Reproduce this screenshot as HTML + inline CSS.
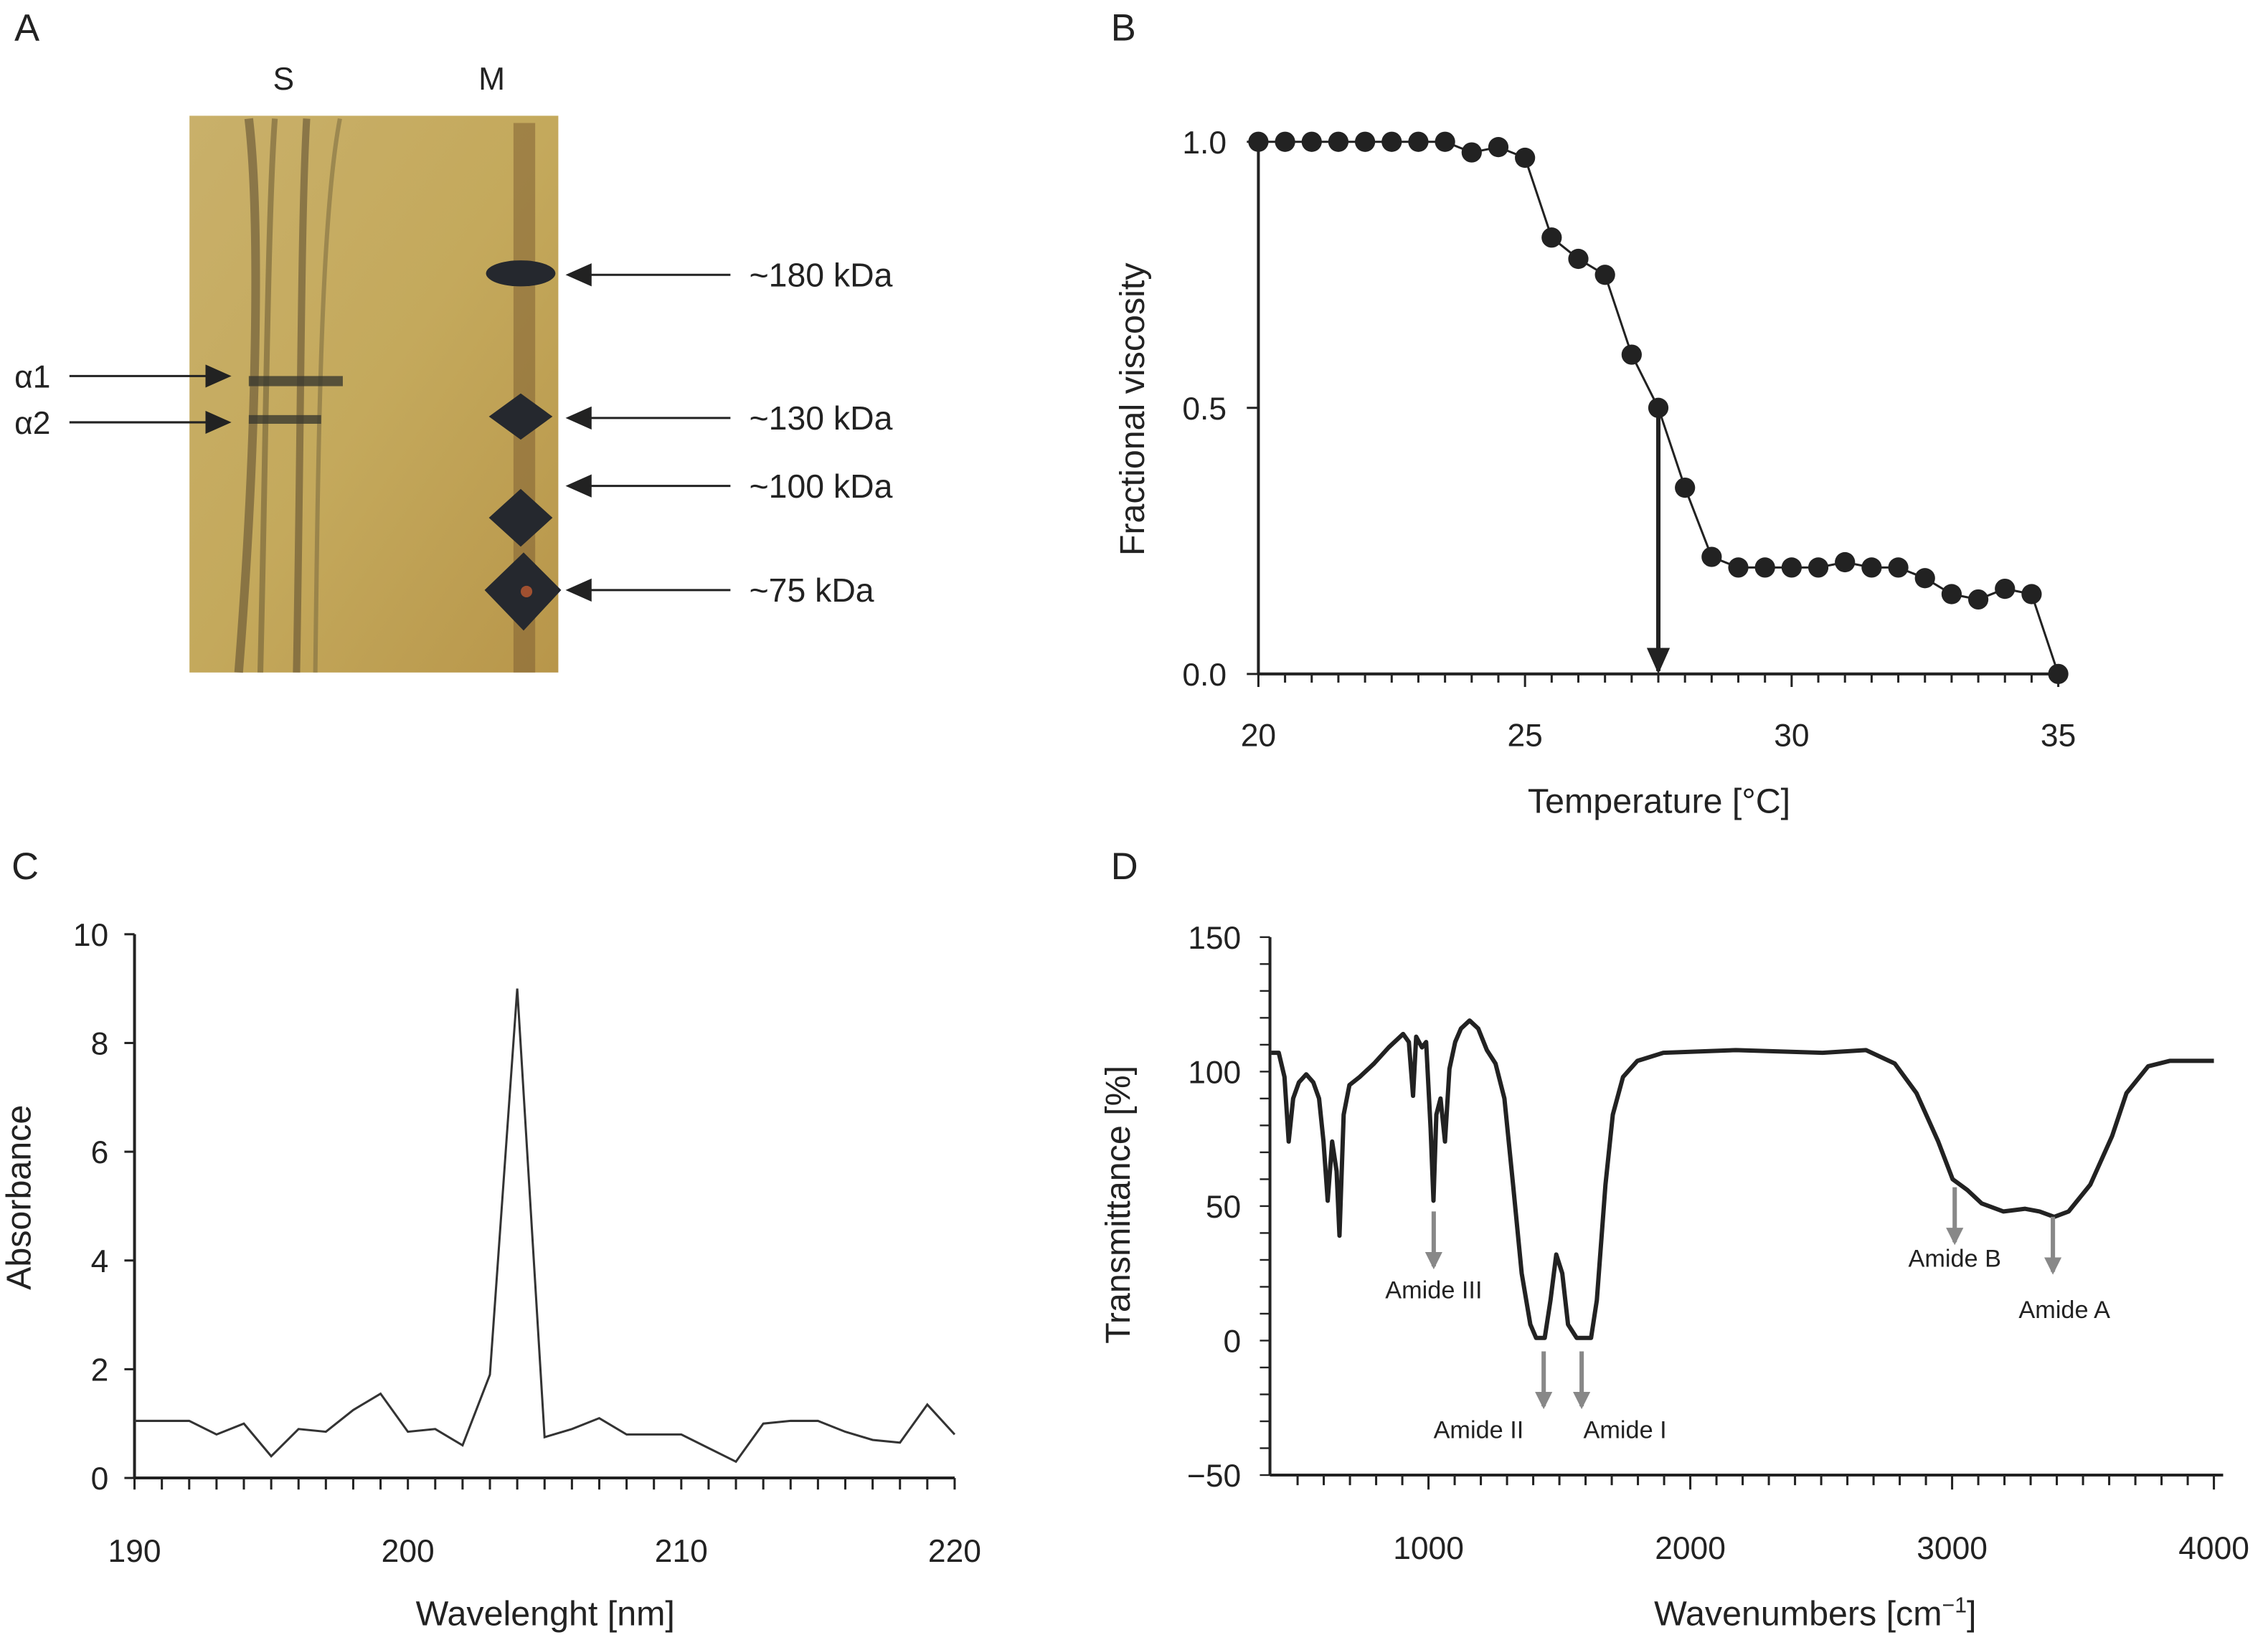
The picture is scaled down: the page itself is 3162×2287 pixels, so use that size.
<!DOCTYPE html>
<html><head><meta charset="utf-8"><style>
html,body{margin:0;padding:0;background:#fff;}
svg{display:block;}
text{font-family:"Liberation Sans",sans-serif;fill:#222;}
</style></head><body>
<svg id="fig" width="3162" height="2287" viewBox="0 0 1568 1134" xmlns="http://www.w3.org/2000/svg">
<defs>
<linearGradient id="gel" x1="0" y1="0" x2="1" y2="1">
<stop offset="0" stop-color="#c9b06a"/><stop offset="0.5" stop-color="#c4a95c"/><stop offset="1" stop-color="#b8964a"/>
</linearGradient>
<marker id="ah" markerWidth="10" markerHeight="10" refX="9" refY="5" orient="auto" markerUnits="userSpaceOnUse"><path d="M0,0 L10,5 L0,10 z" fill="#222"/></marker>
<marker id="ahb" markerWidth="18" markerHeight="16" refX="16" refY="8" orient="auto" markerUnits="userSpaceOnUse"><path d="M0,0 L18,8 L0,16 z" fill="#222"/></marker>
<marker id="ahg" markerWidth="12" markerHeight="12" refX="10" refY="6" orient="auto" markerUnits="userSpaceOnUse"><path d="M0,0 L12,6 L0,12 z" fill="#888"/></marker>
</defs>

<!-- Panel A -->
<g>
<text x="10" y="28" font-size="26">A</text>
<rect x="131" y="80" width="255" height="385" fill="url(#gel)"/>
<g opacity="0.55">
<path d="M172,82 C180,150 178,300 165,465" stroke="#5a4a30" stroke-width="6" fill="none"/>
<path d="M190,82 C185,150 184,300 180,465" stroke="#6a5a35" stroke-width="4" fill="none"/>
<path d="M212,82 C208,150 208,300 205,465" stroke="#5a4a30" stroke-width="5" fill="none"/>
<path d="M235,82 C222,150 220,300 218,465" stroke="#7a6a40" stroke-width="3" fill="none"/>
</g>
<rect x="172" y="260" width="65" height="7" fill="#3a3a30" opacity="0.8"/>
<rect x="172" y="287" width="50" height="6" fill="#3a3a30" opacity="0.8"/>
<g>
<rect x="355" y="85" width="15" height="380" fill="#7a5a30" opacity="0.5"/>
<ellipse cx="360" cy="189" rx="24" ry="9" fill="#25282e"/>
<path d="M338,288 L360,272 L382,288 L360,304 z" fill="#25282e"/>
<path d="M338,358 L360,338 L382,358 L360,378 z" fill="#25282e"/>
<path d="M335,408 L362,382 L388,408 L362,436 z" fill="#25282e"/>
<circle cx="364" cy="409" r="4" fill="#a05030"/>
</g>
<text x="196" y="62" font-size="22" text-anchor="middle">S</text>
<text x="340" y="62" font-size="22" text-anchor="middle">M</text>
<text x="10" y="268" font-size="22">α1</text>
<text x="10" y="300" font-size="22">α2</text>
<line x1="48" y1="260" x2="158" y2="260" stroke="#222" stroke-width="1.5" marker-end="url(#ahb)"/>
<line x1="48" y1="292" x2="158" y2="292" stroke="#222" stroke-width="1.5" marker-end="url(#ahb)"/>
<line x1="505" y1="190" x2="393" y2="190" stroke="#222" stroke-width="1.5" marker-end="url(#ahb)"/>
<line x1="505" y1="289" x2="393" y2="289" stroke="#222" stroke-width="1.5" marker-end="url(#ahb)"/>
<line x1="505" y1="336" x2="393" y2="336" stroke="#222" stroke-width="1.5" marker-end="url(#ahb)"/>
<line x1="505" y1="408" x2="393" y2="408" stroke="#222" stroke-width="1.5" marker-end="url(#ahb)"/>
<text x="518" y="198" font-size="23">~180 kDa</text>
<text x="518" y="297" font-size="23">~130 kDa</text>
<text x="518" y="344" font-size="23">~100 kDa</text>
<text x="518" y="416" font-size="23">~75 kDa</text>
</g>

<g id="pb">
<text x="768" y="28" font-size="26">B</text>
</g>
<g id="pc">
<text x="8" y="608" font-size="26">C</text>
</g>
<g id="pd">
<text x="768" y="608" font-size="26">D</text>
</g>
</svg>
<script>
// Panel B data
const bTemps=[20,20.5,21,21.5,22,22.5,23,23.5,24,24.5,25,25.5,26,26.5,27,27.5,28,28.5,29,29.5,30,30.5,31,31.5,32,32.5,33,33.5,34,34.5,35];
const bVisc=[1,1,1,1,1,1,1,1,0.98,0.99,0.97,0.82,0.78,0.75,0.60,0.50,0.35,0.22,0.20,0.20,0.20,0.20,0.21,0.20,0.20,0.18,0.15,0.14,0.16,0.15,0.0];
const bXTicks=[20,25,30,35];
const bYTicks=[0.0,0.5,1.0];
const bTransition=27.5;
// Panel C data
const cWave=[190,191,192,193,194,195,196,197,198,199,200,201,202,203,204,205,206,207,208,209,210,211,212,213,214,215,216,217,218,219,220];
const cAbs=[1.05,1.05,1.05,0.8,1.0,0.4,0.9,0.85,1.25,1.55,0.85,0.9,0.6,1.9,9.0,0.75,0.9,1.1,0.8,0.8,0.8,0.55,0.3,1.0,1.05,1.05,0.85,0.7,0.65,1.35,0.8];
const cXTicks=[190,200,210,220];
const cYTicks=[0,2,4,6,8,10];
// Panel D data
const dWn=[400,428,450,466,483,505,533,560,582,599,615,632,649,660,676,698,737,792,848,903,925,941,953,975,991,1008,1019,1030,1046,1063,1080,1102,1124,1157,1190,1223,1256,1290,1323,1356,1389,1411,1444,1466,1488,1511,1533,1566,1621,1643,1676,1704,1743,1798,1897,2174,2505,2671,2781,2864,2947,3002,3058,3113,3196,3279,3334,3390,3445,3528,3611,3666,3749,3831,4000];
const dT=[107,107,98,74,90,96,99,96,90,74,52,74,63,39,84,95,98,103,109,114,111,91,113,109,111,79,52,84,90,74,101,111,116,119,116,108,103,90,58,25,6,1,1,15,32,25,6,1,1,15,58,84,98,104,107,108,107,108,103,92,74,60,56,51,48,49,48,46,48,58,76,92,102,104,104];
const dXTicks=[1000,2000,3000,4000];
const dYTicks=[-50,0,50,100,150];
const dAnnot=['Amide III','Amide II','Amide I','Amide B','Amide A'];
const dAnnotWn=[1020,1440,1585,3010,3385];
const dAnnotT=[48,-4,-4,57,46];

const NS='http://www.w3.org/2000/svg';
function mk(parent,tag,attrs,txt){const e=document.createElementNS(NS,tag);for(const k in attrs)e.setAttribute(k,attrs[k]);if(txt!==undefined)e.textContent=txt;parent.appendChild(e);return e;}

// ---- Panel B ----
(function(){
const g=document.getElementById('pb');
const sx=v=>870+(v-20)*(553/15), sy=v=>466-v*368;
let e=mk(g,'line',{x1:870,y1:466,x2:1423,y2:466,stroke:'#222','stroke-width':2});


e=mk(g,'line',{x1:870,y1:466,x2:870,y2:98,stroke:'#222','stroke-width':2});


for(let t=20;t<=35;t+=0.5){mk(g,'line',{x1:sx(t),y1:466,x2:sx(t),y2:bXTicks.includes(t)?475:472,stroke:'#222','stroke-width':1.5});}
bXTicks.forEach(t=>{e=mk(g,'text',{x:sx(t),y:516,'font-size':22,'text-anchor':'middle'},String(t));

});
bYTicks.forEach(t=>{mk(g,'line',{x1:862,y1:sy(t),x2:870,y2:sy(t),stroke:'#222','stroke-width':1.5});
e=mk(g,'text',{x:848,y:sy(t)+8,'font-size':22,'text-anchor':'end'},t.toFixed(1));

});
e=mk(g,'text',{x:1147,y:562,'font-size':24,'text-anchor':'middle'},'Temperature [°C]');


e=mk(g,'text',{x:0,y:0,'font-size':24,'text-anchor':'middle',transform:'translate(791,283) rotate(-90)'},'Fractional viscosity');


e=mk(g,'polyline',{points:bTemps.map((t,i)=>sx(t)+','+sy(bVisc[i])).join(' '),fill:'none',stroke:'#222','stroke-width':1.5});


bTemps.forEach((t,i)=>{e=mk(g,'circle',{cx:sx(t),cy:sy(bVisc[i]),r:7,fill:'#222'});

});
const vi=bTemps.indexOf(bTransition);
e=mk(g,'line',{x1:sx(bTransition),y1:sy(bVisc[vi]),x2:sx(bTransition),y2:sy(0)-2,stroke:'#222','stroke-width':3,'marker-end':'url(#ahb)'});


})();

// ---- Panel C ----
(function(){
const g=document.getElementById('pc');
const sx=v=>93+(v-190)*(567/30), sy=v=>1022-v*37.6;
let e=mk(g,'line',{x1:93,y1:1022,x2:660,y2:1022,stroke:'#222','stroke-width':2});


e=mk(g,'line',{x1:93,y1:1022,x2:93,y2:646,stroke:'#222','stroke-width':2});


for(let t=190;t<=220;t++){mk(g,'line',{x1:sx(t),y1:1022,x2:sx(t),y2:1030,stroke:'#222','stroke-width':1.5});}
cXTicks.forEach(t=>{e=mk(g,'text',{x:sx(t),y:1080,'font-size':22,'text-anchor':'middle'},String(t));

});
cYTicks.forEach(t=>{mk(g,'line',{x1:86,y1:sy(t),x2:93,y2:sy(t),stroke:'#222','stroke-width':1.5});
e=mk(g,'text',{x:75,y:sy(t)+8,'font-size':22,'text-anchor':'end'},String(t));

});
e=mk(g,'text',{x:377,y:1124,'font-size':24,'text-anchor':'middle'},'Wavelenght [nm]');


e=mk(g,'text',{x:0,y:0,'font-size':24,'text-anchor':'middle',transform:'translate(21,828) rotate(-90)'},'Absorbance');


e=mk(g,'polyline',{points:cWave.map((t,i)=>sx(t)+','+sy(cAbs[i])).join(' '),fill:'none',stroke:'#333','stroke-width':1.5});


})();

// ---- Panel D ----
(function(){
const g=document.getElementById('pd');
const sx=v=>879+(v-400)*0.181, sy=v=>927-v*1.86;
let e=mk(g,'line',{x1:878,y1:1020,x2:1537,y2:1020,stroke:'#222','stroke-width':2});


e=mk(g,'line',{x1:878,y1:1020,x2:878,y2:648,stroke:'#222','stroke-width':2});


for(let t=500;t<=4000;t+=100){mk(g,'line',{x1:sx(t),y1:1020,x2:sx(t),y2:t%1000===0?1030:1027,stroke:'#222','stroke-width':1.5});}
for(let t=-50;t<=150;t+=10){mk(g,'line',{x1:871,y1:sy(t),x2:878,y2:sy(t),stroke:'#222','stroke-width':1.2});}
dXTicks.forEach(t=>{e=mk(g,'text',{x:sx(t),y:1078,'font-size':22,'text-anchor':'middle'},String(t));

});
dYTicks.forEach(t=>{e=mk(g,'text',{x:858,y:sy(t)+8,'font-size':22,'text-anchor':'end'},t<0?'−'+Math.abs(t):String(t));

});
e=mk(g,'text',{x:1255,y:1124,'font-size':24,'text-anchor':'middle'});


e.innerHTML='Wavenumbers [cm<tspan font-size="15" dy="-9">−1</tspan><tspan dy="9">]</tspan>';
e=mk(g,'text',{x:0,y:0,'font-size':24,'text-anchor':'middle',transform:'translate(781,833) rotate(-90)'},'Transmittance [%]');


e=mk(g,'polyline',{points:dWn.map((t,i)=>sx(t)+','+sy(dT[i])).join(' '),fill:'none',stroke:'#222','stroke-width':3,'stroke-linejoin':'round'});


dAnnot.forEach((lab,i)=>{const x=sx(dAnnotWn[i]),y=sy(dAnnotT[i]);
e=mk(g,'line',{x1:x,y1:y,x2:x,y2:y+38,stroke:'#888','stroke-width':3,'marker-end':'url(#ahg)'});


let lx=x,ly=y+60;
if(lab==='Amide II'){lx=x-45;} if(lab==='Amide I'){lx=x+30;} if(lab==='Amide A'){lx=x+8;ly=y+70;} if(lab==='Amide B'){ly=y+55;}
e=mk(g,'text',{x:lx,y:ly,'font-size':17,'text-anchor':'middle'},lab);

});
})();
</script>
</body></html>
